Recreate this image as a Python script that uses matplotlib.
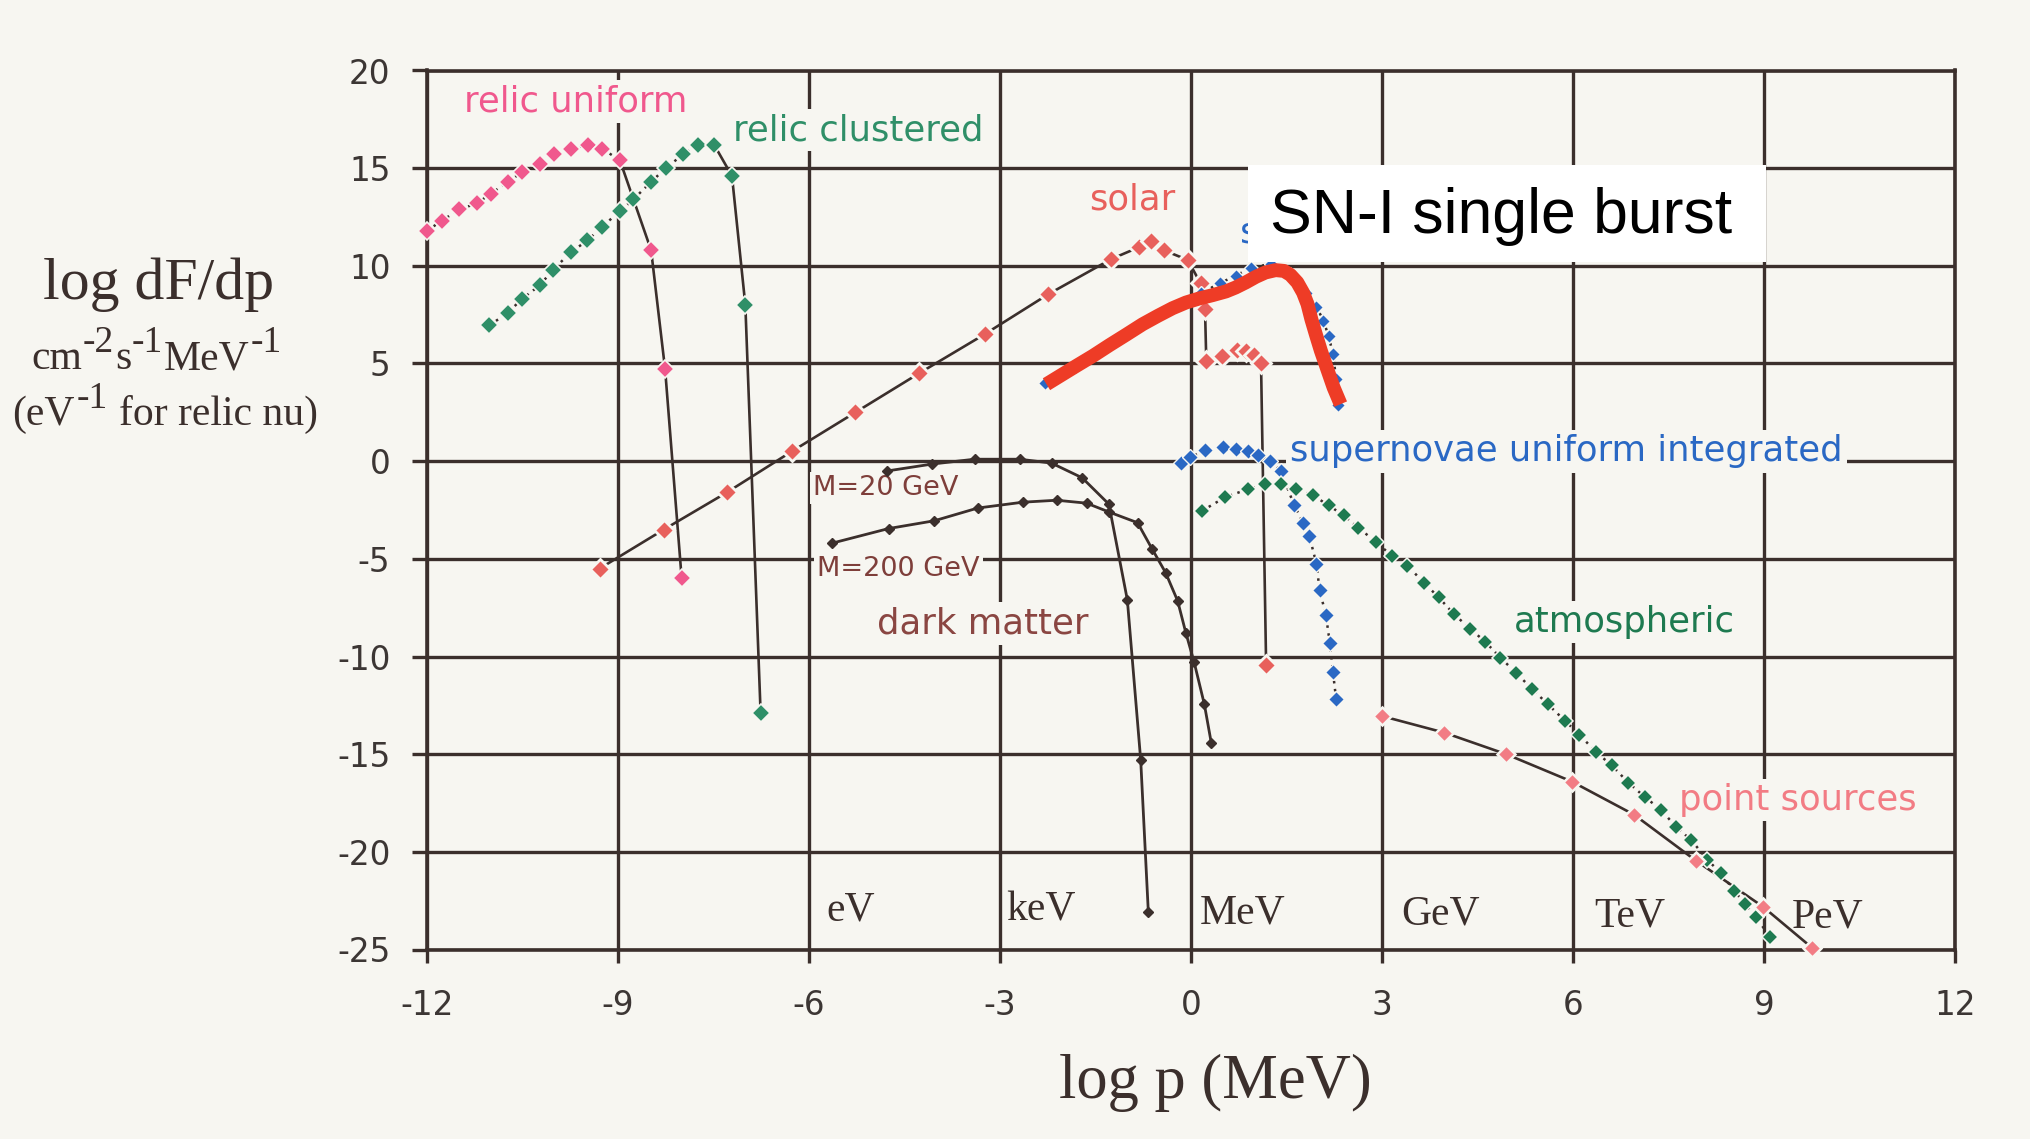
import matplotlib
matplotlib.use("Agg")
import matplotlib.pyplot as plt
import matplotlib.transforms as mtransforms
from matplotlib.patches import Rectangle

# ---------------- data: log10 p [MeV] vs log10 dF/dp ----------------
relic_uniform_x = [-12.0, -11.77, -11.49, -11.21, -11.0, -10.72, -10.51, -10.23, -10.0,
                   -9.74, -9.47, -9.25, -8.97, -8.48, -8.26, -8.0]
relic_uniform_y = [11.8, 12.3, 12.9, 13.2, 13.7, 14.3, 14.8, 15.2, 15.7,
                   16.0, 16.2, 16.0, 15.4, 10.8, 4.7, -6.0]

relic_clustered_x = [-11.02, -10.73, -10.51, -10.23, -10.02, -9.74, -9.48, -9.25, -8.97,
                     -8.76, -8.48, -8.25, -7.98, -7.74, -7.49, -7.21, -7.0, -6.76]
relic_clustered_y = [6.95, 7.6, 8.3, 9.0, 9.8, 10.7, 11.3, 12.0, 12.8,
                     13.4, 14.3, 15.0, 15.7, 16.2, 16.2, 14.6, 8.0, -12.9]

solar_x = [-9.29, -8.28, -7.29, -6.27, -5.27, -4.27, -3.24, -2.24, -1.25, -0.82, -0.63,
           -0.43, -0.05, 0.15, 0.22, 0.24, 0.49, 0.72, 0.87, 0.99, 1.1, 1.18]
solar_y = [-5.5, -3.5, -1.6, 0.5, 2.5, 4.5, 6.5, 8.55, 10.35, 10.95, 11.25,
           10.8, 10.3, 9.1, 7.8, 5.15, 5.4, 5.7, 5.65, 5.45, 5.0, -10.45]

dm20_x = [-4.77, -4.07, -3.40, -2.69, -2.19, -1.71, -1.29, -1.0, -0.79, -0.67]
dm20_y = [-0.5, -0.15, 0.1, 0.1, -0.1, -0.85, -2.2, -7.1, -15.3, -23.1]

dm200_x = [-5.64, -4.75, -4.03, -3.35, -2.64, -2.11, -1.64, -1.29, -0.84, -0.61,
           -0.40, -0.21, -0.08, 0.05, 0.21, 0.32]
dm200_y = [-4.2, -3.45, -3.05, -2.4, -2.1, -2.0, -2.15, -2.6, -3.15, -4.5,
           -5.7, -7.15, -8.8, -10.3, -12.45, -14.45]

sn_uniform_x = [-0.16, -0.02, 0.22, 0.50, 0.71, 0.89, 1.06, 1.24, 1.41, 1.62, 1.76,
                1.86, 1.97, 2.02, 2.12, 2.18, 2.23, 2.28]
sn_uniform_y = [-0.1, 0.2, 0.55, 0.7, 0.6, 0.5, 0.3, 0.0, -0.5, -2.25, -3.15,
                -3.85, -5.25, -6.6, -7.9, -9.3, -10.8, -12.2]

sn_burst_x = [-2.3, -1.8, -1.3, -0.8, -0.3, 0.15, 0.45, 0.7, 0.95, 1.25, 1.55,
              1.8, 1.97, 2.08, 2.16, 2.23, 2.28, 2.31]
sn_burst_y = [4.0, 4.8, 5.9, 7.0, 7.9, 8.6, 9.1, 9.5, 9.9, 10.1, 9.6,
              8.6, 7.9, 7.2, 6.4, 5.5, 4.2, 2.9]

atmospheric_x = [0.17, 0.54, 0.89, 1.17, 1.41, 1.65, 1.91, 2.16, 2.40, 2.63, 2.91, 3.15,
                 3.40, 3.66, 3.89, 4.13, 4.38, 4.62, 4.86, 5.11, 5.35, 5.6, 5.88, 6.1,
                 6.36, 6.61, 6.87, 7.13, 7.38, 7.62, 7.86, 8.11, 8.32, 8.53, 8.7, 8.88, 9.09]
atmospheric_y = [-2.55, -1.84, -1.44, -1.18, -1.17, -1.44, -1.74, -2.26, -2.78, -3.42, -4.14,
                 -4.84, -5.35, -6.23, -6.97, -7.83, -8.57, -9.24, -10.06, -10.85, -11.64,
                 -12.43, -13.31, -14.0, -14.89, -15.58, -16.46, -17.2, -17.84, -18.73,
                 -19.41, -20.4, -21.09, -21.98, -22.67, -23.36, -24.35]

point_x = [3.0, 3.98, 4.95, 5.98, 6.96, 7.93, 8.98, 9.75]
point_y = [-13.05, -13.9, -15.0, -16.4, -18.1, -20.45, -22.8, -24.9]

sn1_x = [-2.27, -2.03, -1.80, -1.54, -1.28, -1.02, -0.76, -0.52, -0.29, -0.08, 0.13,
         0.34, 0.55, 0.70, 0.86, 1.02, 1.17, 1.33, 1.46, 1.56, 1.67, 1.76, 1.83,
         1.89, 1.96, 2.04, 2.14, 2.24, 2.35]
sn1_y = [3.94, 4.42, 4.88, 5.39, 5.94, 6.47, 7.01, 7.44, 7.83, 8.12, 8.33,
         8.50, 8.69, 8.89, 9.15, 9.44, 9.66, 9.78, 9.74, 9.54, 9.15, 8.63, 8.04,
         7.27, 6.50, 5.65, 4.71, 3.77, 2.92]

x_ticks = [-12, -9, -6, -3, 0, 3, 6, 9, 12]
y_ticks = [-25, -20, -15, -10, -5, 0, 5, 10, 15, 20]
unit_names = ["eV", "keV", "MeV", "GeV", "TeV", "PeV"]

# ---------------- style ----------------
W, H, DPI = 2031, 1139, 100
BG = "#F7F6F1"
INK = "#3B2F2C"
PINK = "#F0588D"
GREEN_RC = "#2F8F68"
RED_SOLAR = "#E8605C"
BLUE = "#2A68C4"
GREEN_ATM = "#1E7A50"
PT_PINK = "#F27C84"
DM = "#8A4642"
SN_RED = "#EE3C26"
SANS = "DejaVu Sans"
SERIF = "Liberation Serif"

plt.rcParams["axes.unicode_minus"] = False

fig = plt.figure(figsize=(W / DPI, H / DPI), dpi=DPI, facecolor=BG)
ax = fig.add_axes([427 / W, 1 - 949.5 / H, 1528 / W, 879 / H])
ax.set_facecolor(BG)
ax.set_xlim(-12, 12)
ax.set_ylim(-25, 20)
ax.set_xticks(x_ticks)
ax.set_yticks(y_ticks)
ax.set_axisbelow(True)
ax.grid(True, color=INK, lw=2.4)
for sp in ax.spines.values():
    sp.set_color(INK)
    sp.set_linewidth(2.6)
ax.tick_params(axis="y", direction="out", length=10.8, width=2.4, color=INK,
               pad=15.5, labelsize=23.5, labelcolor="#3C3634")
ax.tick_params(axis="x", direction="out", length=9.4, width=2.4, color=INK,
               pad=19, labelsize=23.5, labelcolor="#3C3634")
for lab in ax.get_xticklabels() + ax.get_yticklabels():
    lab.set_family(SANS)

LINE_KW = dict(color=INK, lw=1.9, zorder=3, solid_capstyle="butt")
DOT_KW = dict(color=INK, lw=1.8, ls=(0, (1, 2.2)), zorder=3)


def markers(x, y, color, ms, halo=1.4, z=4):
    ax.plot(x, y, ls="none", marker="D", ms=ms, mfc=color, mec=BG, mew=halo, zorder=z,
            clip_on=False)


# relic neutrinos: dotted rise, solid fall
k = 12
ax.plot(relic_uniform_x[:k + 1], relic_uniform_y[:k + 1], **DOT_KW)
ax.plot(relic_uniform_x[k:], relic_uniform_y[k:], **LINE_KW)
markers(relic_uniform_x, relic_uniform_y, PINK, 9.4, halo=1.2)

k = 14
ax.plot(relic_clustered_x[:k + 1], relic_clustered_y[:k + 1], **DOT_KW)
ax.plot(relic_clustered_x[k:], relic_clustered_y[k:], **LINE_KW)
markers(relic_clustered_x, relic_clustered_y, GREEN_RC, 9.0, halo=1.2)

# solar
ax.plot(solar_x, solar_y, **LINE_KW)
markers(solar_x, solar_y, RED_SOLAR, 10.0, halo=2.0)

# dark matter annihilation
for dx, dy in ((dm20_x, dm20_y), (dm200_x, dm200_y)):
    ax.plot(dx, dy, color=INK, lw=2.0, zorder=3)
    ax.plot(dx, dy, ls="none", marker="D", ms=5.4, color=INK, zorder=4)

# supernovae
ax.plot(sn_uniform_x, sn_uniform_y, **DOT_KW)
markers(sn_uniform_x, sn_uniform_y, BLUE, 7.8, halo=1.0)
ax.plot(sn_burst_x, sn_burst_y, **DOT_KW)
markers(sn_burst_x, sn_burst_y, BLUE, 7.0, halo=1.0)

# atmospheric
ax.plot(atmospheric_x, atmospheric_y, **DOT_KW)
markers(atmospheric_x, atmospheric_y, GREEN_ATM, 8.0, halo=1.1)

# point sources
ax.plot(point_x, point_y, **LINE_KW)
markers(point_x, point_y, PT_PINK, 9.4, halo=1.8)

# ---------------- curve labels ----------------
LBL_BOX = dict(boxstyle="square,pad=0.12", fc=BG, ec="none")


def label(x, y, s, color, size=25.5, box=True):
    ax.text(x, y, s, color=color, fontsize=size, family=SANS, va="baseline", ha="left",
            bbox=LBL_BOX if box else None, zorder=2)


label(-11.42, 17.89, "relic uniform", PINK)
label(-7.2, 16.44, "relic clustered", GREEN_RC)
label(-1.6, 12.86, "solar", RED_SOLAR)
label(1.56, -0.01, "supernovae uniform integrated", BLUE)
label(5.07, -8.74, "atmospheric", GREEN_ATM)
label(7.66, -17.87, "point sources", PT_PINK)
label(-5.93, -1.74, "M=20 GeV", "#7E3E3A", size=19.5)
label(-5.87, -5.88, "M=200 GeV", "#7E3E3A", size=19.5)
label(-4.93, -8.82, "dark matter", DM)

# energy units along the bottom
unit_pos = [(-5.72, -23.5), (-2.9, -23.5), (0.14, -23.65), (3.31, -23.7),
            (6.33, -23.8), (9.44, -23.85)]
for name, (ux, uy) in zip(unit_names, unit_pos):
    ax.text(ux, uy, name, fontsize=30, family=SERIF, color=INK, va="baseline",
            ha="left", zorder=2)

# ---------------- single-burst overlay ----------------
ax.text(0.77, 11.22, "s", color=BLUE, fontsize=26, family=SANS,
        va="baseline", ha="left", zorder=5)
ax.plot(sn1_x, sn1_y, color=SN_RED, lw=10, solid_capstyle="butt",
        solid_joinstyle="round", zorder=8)
ax.add_patch(Rectangle((0.895, 10.2), 9.03 - 0.895, 15.16 - 10.2, facecolor="white",
                       edgecolor="none", zorder=9, clip_on=False))
ax.text(1.24, 11.68, "SN-I single burst", fontsize=45, family="Liberation Sans",
        color="black", va="baseline", ha="left", zorder=10)

# ---------------- axis titles ----------------
PIX = mtransforms.IdentityTransform()
fig.text(158.5, H - 299, "log dF/dp", fontsize=43, family=SERIF, color=INK,
         ha="center", va="baseline", transform=PIX)
fig.text(1215.5, H - 1098, "log p (MeV)", fontsize=45, family=SERIF, color=INK,
         ha="center", va="baseline", transform=PIX)

renderer = fig.canvas.get_renderer()


def run_of_text(pieces, cx, base, size):
    """Lay out (text, raised, gap_em) pieces on one baseline, centred on cx."""
    items = []
    for s, sup, gap in pieces:
        fs = size * 0.9 if sup else size
        t = fig.text(0, 0, s, fontsize=fs, family=SERIF, color=INK,
                     ha="left", va="baseline", transform=PIX)
        w = t.get_window_extent(renderer).width
        items.append((t, w, sup, gap * size * DPI / 72))
    total = sum(w + g for _, w, _, g in items)
    x = cx - total / 2
    for t, w, sup, g in items:
        x += g
        y = base + (0.4 * size * DPI / 72 if sup else 0)
        t.set_position((x, y))
        x += w


run_of_text([("cm", False, 0), ("-2", True, 0.02), ("s", False, 0.02),
             ("-1", True, 0.02), ("MeV", False, 0.02), ("-1", True, 0.02)],
            156.5, H - 369, 30)
run_of_text([("(eV", False, 0), ("-1", True, 0.04), ("for relic nu)", False, 0.28)],
            165, H - 425, 30)

fig.savefig("out.png", dpi=DPI, facecolor=BG)
